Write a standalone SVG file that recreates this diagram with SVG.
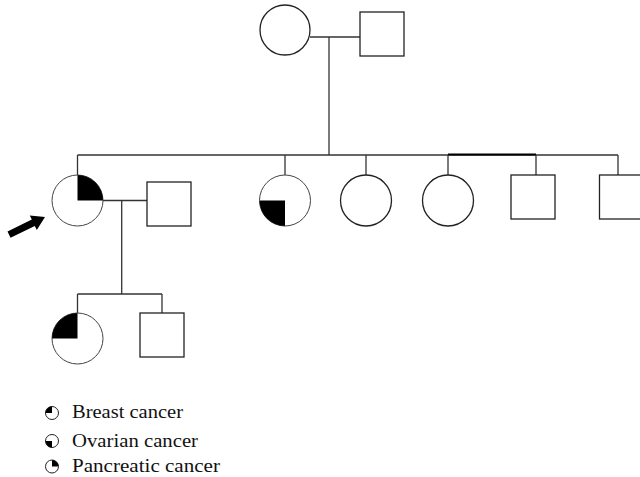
<svg xmlns="http://www.w3.org/2000/svg" width="640" height="477" viewBox="0 0 640 477">
<style>
.ln{stroke:#333;stroke-width:1.3;fill:none}
.sh{fill:#fff;stroke:#222;stroke-width:1.3}
.fm{fill:#fff;stroke:#444;stroke-width:1}
.bk{fill:#000}
.lg{font-family:"Liberation Serif","Times New Roman",serif;font-size:19.5px;fill:#111}
.ic{fill:#fff;stroke:#222;stroke-width:1}
</style>
<rect width="640" height="477" fill="#fff"/>
<g id="connectors">
<path class="ln" d="M310,37 H360"/>
<path class="ln" d="M329,37 V155"/>
<path class="ln" d="M77.5,155 H618"/>
<path d="M448,154.5 H536" stroke="#000" stroke-width="1.8" fill="none"/>
<path class="ln" d="M77.5,155 V175"/>
<path class="ln" d="M285,155 V175"/>
<path class="ln" d="M366,155 V175"/>
<path class="ln" d="M448,155 V175"/>
<path class="ln" d="M536,155 V175"/>
<path class="ln" d="M618,155 V175"/>
<path class="ln" d="M103,200.5 H147"/>
<path class="ln" d="M121.7,200.5 V294"/>
<path class="ln" d="M77.5,294 H162"/>
<path class="ln" d="M77.5,294 V313"/>
<path class="ln" d="M162,294 V313"/>
</g>
<g id="grandmother"><circle class="sh" cx="285" cy="30" r="25"/></g>
<g id="grandfather"><rect class="sh" x="360" y="12" width="44" height="44"/></g>
<g id="proband">
<circle class="fm" cx="77.5" cy="200.5" r="25.5"/>
<path class="bk" d="M77.5,200.5 V175 A25.5,25.5 0 0 1 103,200.5 Z"/>
</g>
<g id="husband"><rect class="sh" x="147" y="182" width="44" height="44"/></g>
<g id="sister1">
<circle class="fm" cx="285" cy="200.5" r="25.5"/>
<path class="bk" d="M285,200.5 V226 A25.5,25.5 0 0 1 259.5,200.5 Z"/>
</g>
<g id="sister2"><circle class="sh" cx="366" cy="200.5" r="25.5"/></g>
<g id="sister3"><circle class="sh" cx="448" cy="200.5" r="25.5"/></g>
<g id="brother1"><rect class="sh" x="511" y="175" width="44" height="44"/></g>
<g id="brother2"><rect class="sh" x="599.5" y="175" width="44" height="44"/></g>
<g id="daughter">
<circle class="fm" cx="77.5" cy="338.5" r="25.5"/>
<path class="bk" d="M77.5,338.5 H52 A25.5,25.5 0 0 1 77.5,313 Z"/>
</g>
<g id="son"><rect class="sh" x="140" y="313" width="44" height="44"/></g>
<g id="arrow">
<polygon fill="#000" points="10.5,237.7 34.8,225.9 36.8,229.9 45,217 29.8,215.5 31.8,219.6 7.5,231.4"/>
</g>
<g id="legend">
<circle class="ic" cx="52" cy="413" r="6.5"/>
<path class="bk" d="M52,413 H45.5 A6.5,6.5 0 0 1 52,406.5 Z"/>
<text class="lg" x="72" y="418.3" textLength="111" lengthAdjust="spacingAndGlyphs">Breast cancer</text>
<circle class="ic" cx="52" cy="441" r="6.5"/>
<path class="bk" d="M52,441 V447.5 A6.5,6.5 0 0 1 45.5,441 Z"/>
<text class="lg" x="72" y="446.5" textLength="126" lengthAdjust="spacingAndGlyphs">Ovarian cancer</text>
<circle class="ic" cx="52" cy="466.5" r="6.5"/>
<path class="bk" d="M52,466.5 V460 A6.5,6.5 0 0 1 58.5,466.5 Z"/>
<text class="lg" x="72" y="471.7" textLength="148" lengthAdjust="spacingAndGlyphs">Pancreatic cancer</text>
</g>
</svg>
